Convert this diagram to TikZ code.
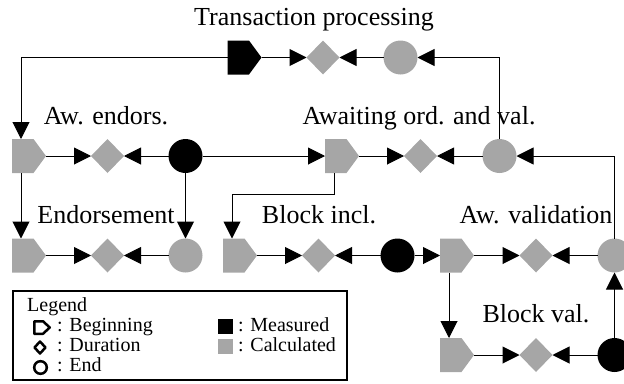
\documentclass[tikz,border=0pt]{standalone}
\usepackage{fontspec}
\setmainfont{Liberation Serif}
\usetikzlibrary{arrows.meta,shapes.geometric}
\definecolor{calc}{RGB}{166,166,166}
\tikzset{
 conn/.style={draw=black, line width=1pt},
 arr/.style={conn, -{Triangle[length=17pt,width=17pt]}},
 begshape/.style={minimum width=34pt, minimum height=34pt, inner sep=0pt, outer sep=0pt,
   path picture={\fill[#1] (path picture bounding box.south west) -- (path picture bounding box.north west) -- ([xshift=-12.5pt]path picture bounding box.north east) -- (path picture bounding box.east) -- ([xshift=-12.5pt]path picture bounding box.south east) -- cycle;}},
 durshape/.style={diamond, fill=#1, minimum width=33pt, minimum height=34pt, inner sep=0pt, outer sep=0pt},
 endshape/.style={circle, fill=#1, minimum size=34pt, inner sep=0pt, outer sep=0pt},
 lbl/.style={font=\fontsize{26}{30}\selectfont, anchor=base, inner sep=0pt},
 lgd/.style={font=\fontsize{20}{24}\selectfont, anchor=base west, inner sep=0pt},
 icon/.style={draw=black, line width=2.5pt, line join=round},
}
\begin{document}
\begin{tikzpicture}[x=1pt,y=-1pt]
\useasboundingbox (0,0) rectangle (624,383);
% row 1
\node[begshape=black] (b0) at (244.5,57.5) {};
\node[durshape=calc] (d0) at (323,57.5) {};
\node[endshape=calc] (e0) at (400.5,57.5) {};
% row 2
\node[begshape=calc] (b1) at (29,156) {};
\node[durshape=calc] (d1) at (107.5,156) {};
\node[endshape=black] (e1) at (185.5,156) {};
\node[begshape=calc] (b2) at (342,156) {};
\node[durshape=calc] (d2) at (420.5,156) {};
\node[endshape=calc] (e2) at (499.5,156) {};
% row 3
\node[begshape=calc] (b3) at (29,255.5) {};
\node[durshape=calc] (d3) at (107.5,255.5) {};
\node[endshape=calc] (e3) at (185.5,255.5) {};
\node[begshape=calc] (b4) at (240,255.5) {};
\node[durshape=calc] (d4) at (318.5,255.5) {};
\node[endshape=black] (e4) at (397.5,255.5) {};
\node[begshape=calc] (b5) at (457,255.5) {};
\node[durshape=calc] (d5) at (536,255.5) {};
\node[endshape=calc] (e5) at (614.5,255.5) {};
% row 4
\node[begshape=calc] (b6) at (457,355) {};
\node[durshape=calc] (d6) at (536,355) {};
\node[endshape=black] (e6) at (614.5,355) {};
% labels
\node[lbl] (t0) at (314,25) {Transaction processing};
\node[lbl] (t1) at (106,124) {Aw. endors.};
\node[lbl] (t2) at (419,124) {Awaiting ord. and val.};
\node[lbl] (t3) at (106,223) {Endorsement};
\node[lbl] (t4) at (319,223) {Block incl.};
\node[lbl] (t5) at (536,223) {Aw. validation};
\node[lbl] (t6) at (536,322) {Block val.};
% connectors
\draw[arr] (b0.east) -- (d0.west);
\draw[arr] (e0.west) -- (d0.east);
\draw[arr] (b0.west) -| ([xshift=-8pt]b1.north);
\draw[arr] (e2.north) |- (e0.east);
\draw[arr] (b1.east) -- (d1.west);
\draw[arr] (e1.west) -- (d1.east);
\draw[arr] (e1.east) -- (b2.west);
\draw[arr] (b2.east) -- (d2.west);
\draw[arr] (e2.west) -- (d2.east);
\draw[arr] ([xshift=-8pt]b1.south) -- ([xshift=-8pt]b3.north);
\draw[arr] (e1.south) -- (e3.north);
\draw[arr] (b3.east) -- (d3.west);
\draw[arr] (e3.west) -- (d3.east);
\draw[arr] ([xshift=-8pt]b2.south) -- ++(0,21) -| ([xshift=-8pt]b4.north);
\draw[arr] (b4.east) -- (d4.west);
\draw[arr] (e4.west) -- (d4.east);
\draw[arr] (e4.east) -- (b5.west);
\draw[arr] (b5.east) -- (d5.west);
\draw[arr] (e5.west) -- (d5.east);
\draw[arr] (e5.north) |- (e2.east);
\draw[arr] ([xshift=-8pt]b5.south) -- ([xshift=-8pt]b6.north);
\draw[arr] (b6.east) -- (d6.west);
\draw[arr] (e6.west) -- (d6.east);
\draw[arr] (e6.north) -- (e5.south);
% legend
\node[draw=black, line width=2pt, minimum width=334pt, minimum height=89pt, inner sep=0pt] (legend) at (180,335.5) {};
\node[lgd] (lg) at (27,311.5) {Legend};
\node[lgd] (lb) at (57,331.5) {: Beginning};
\node[lgd] (ld) at (57,351.5) {: Duration};
\node[lgd] (le) at (57,371.5) {: End};
\node[lgd] (lm) at (238,331.5) {: Measured};
\node[lgd] (lc) at (238,351.5) {: Calculated};
\draw[icon] (34.25,321.25) -- (43,321.25) -- (49.75,327.5) -- (43,333.75) -- (34.25,333.75) -- cycle;
\draw[icon] (34.5,347.5) -- (40,341.5) -- (45.5,347.5) -- (40,353.5) -- cycle;
\draw[icon] (40.5,367.5) circle (6.3);
\node[fill=black, minimum size=15pt, inner sep=0pt] (sqm) at (225.5,326.5) {};
\node[fill=calc, minimum size=15pt, inner sep=0pt] (sqc) at (225.5,346.5) {};
\end{tikzpicture}
\end{document}
